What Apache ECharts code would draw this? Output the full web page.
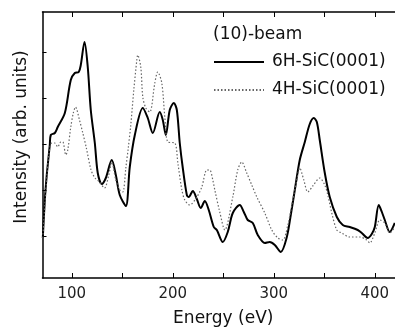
<!DOCTYPE html>
<html>
<head>
<meta charset="utf-8">
<script src="https://cdn.jsdelivr.net/npm/echarts@6/dist/echarts.min.js"></script>
<style>
html,body{margin:0;padding:0;background:#fff;}
#chart{width:395px;height:334px;}
</style>
</head>
<body>
<div id="chart"></div>
<script>
const legendTitle = "(10)-beam";
const seriesNames = ["6H-SiC(0001)", "4H-SiC(0001)"];
const xTickValues = [100, 150, 200, 250, 300, 350, 400];
const xLabelValues = [100, 200, 300, 400];

const energy6H = [71.3,73.3,75.2,76.2,78.2,79.2,83.2,86.1,93.1,99,103,106.9,108.9,112.6,115.8,118.8,122.8,125.7,129.7,133.7,139.6,143.6,147.5,153.5,157.4,162.4,170.3,175.2,180.2,187.1,190.1,193.1,197,201,204,206.9,209.9,213.9,215.8,219.8,223.8,227.7,231.7,235.6,240.6,243.6,249.5,254.4,259.4,266.3,270.3,274.2,279.2,284.1,291.1,296,301,306.9,312.9,316.8,320.8,325.7,330.7,335.6,339.6,342.6,345.5,350.5,355.4,362.4,368.3,375.2,383.1,387.1,393,397,400,403.9,407,409.9,414.8,419.8];
const intensity6H = [40,78,103,113,133,143,145,151,165,198,205,206,213,236,211,168,135,105,94,100,118,103,83,72,111,143,170,160,145,166,158,143,168,175,168,135,110,83,81,87,79,70,77,68,51,48,36,46,65,73,66,58,55,43,35,36,33,26,41,63,88,118,136,154,160,156,138,105,81,61,53,51,48,45,40,44,51,73,66,58,46,55];

const energy4H = [71.3,73.3,75.2,77.2,80.2,83.2,86.1,89.1,91.1,94.1,96,99,101.5,103.7,107.6,110.9,114.2,119.1,123,127.4,132.4,136.6,139.6,143.6,147.5,150.5,153.5,155.9,158.4,161.4,164.4,165.3,168.3,170.3,173.3,177.2,182.2,185.1,189.1,192.1,195.1,202,205,209,211.9,216.8,223.8,228.7,233.7,236.6,239.6,241.6,246.5,251.5,259.4,264.3,268.3,273.2,278.2,283.2,291.1,298,304,308.9,313.9,318.8,322.8,325.7,329.7,333.7,338.6,345.5,350.5,353.5,357.4,362.4,367.3,375.2,385.1,392,395,400,405,409.9,414.8,419.8];
const intensity4H = [40,73,100,123,135,135,131,136,136,123,128,151,165,171,158,145,131,108,100,96,90,103,116,98,88,86,110,130,153,188,218,223,211,181,170,166,195,206,195,161,136,135,115,88,78,73,81,91,108,108,98,88,66,48,81,108,116,105,93,81,65,48,40,38,53,78,98,110,98,86,92,100,93,83,65,48,45,41,41,38,35,45,58,55,45,51];

const zip = (xs, ys) => xs.map((x, i) => [x, ys[i]]);

const FONT = "DejaVu Sans";
const chart = echarts.init(document.getElementById('chart'), null, {renderer: 'canvas'});
chart.setOption({
  animation: false,
  backgroundColor: '#fff',
  title: {
    text: legendTitle,
    left: 213, top: 26, padding: 0,
    textStyle: {fontFamily: FONT, fontSize: 17, fontWeight: 'normal', color: '#111'}
  },
  legend: {
    orient: 'vertical',
    left: 213, top: 52, padding: 0,
    itemWidth: 50, itemHeight: 14, itemGap: 8,
    data: seriesNames,
    itemStyle: {color: 'rgba(0,0,0,0)', borderWidth: 0},
    textStyle: {fontFamily: FONT, fontSize: 17, color: '#111', lineHeight: 20, padding: [0, 0, 0, 3]}
  },
  grid: {left: 42.5, top: 12, right: 0, bottom: 56, containLabel: false},
  xAxis: [{
    type: 'value', min: 71, max: 420, position: 'bottom',
    name: 'Energy (eV)', nameLocation: 'middle', nameGap: 32,
    nameTextStyle: {fontFamily: FONT, fontSize: 17, color: '#111', padding: [0, 0, 0, 9]},
    axisLine: {show: true, lineStyle: {color: '#000', width: 1.5}},
    axisTick: {show: true, inside: true, length: 5, customValues: xTickValues, lineStyle: {color: '#000', width: 1}},
    axisLabel: {show: true, margin: 9, customValues: xLabelValues, fontFamily: FONT, fontSize: 15, color: '#222'},
    splitLine: {show: false}
  }, {
    type: 'value', min: 71, max: 420, position: 'top',
    axisLine: {show: true, lineStyle: {color: '#000', width: 1.5}},
    axisTick: {show: true, inside: true, length: 5, customValues: xTickValues, lineStyle: {color: '#000', width: 1}},
    axisLabel: {show: false},
    splitLine: {show: false}
  }],
  yAxis: {
    type: 'value', min: 0, max: 266,
    name: 'Intensity (arb. units)', nameLocation: 'middle', nameGap: 12, nameRotate: 90,
    nameTextStyle: {fontFamily: FONT, fontSize: 17, color: '#111', padding: [0, 0, 0, 16]},
    axisLine: {show: true, lineStyle: {color: '#000', width: 1.5}},
    axisTick: {show: true, inside: true, length: 4, customValues: [42, 88, 134, 180, 226], lineStyle: {color: '#000', width: 1}},
    axisLabel: {show: false},
    splitLine: {show: false}
  },
  series: [{
    name: seriesNames[0], type: 'line', xAxisIndex: 0,
    data: zip(energy6H, intensity6H),
    smooth: 0.3, showSymbol: false, symbol: 'none',
    lineStyle: {color: '#000', width: 2},
    itemStyle: {color: '#000'}
  }, {
    name: seriesNames[1], type: 'line', xAxisIndex: 0,
    data: zip(energy4H, intensity4H),
    smooth: 0.3, showSymbol: false, symbol: 'none',
    lineStyle: {color: '#666', width: 1.2, type: [1.5, 2]},
    itemStyle: {color: '#666'}
  }]
});
</script>
</body>
</html>
